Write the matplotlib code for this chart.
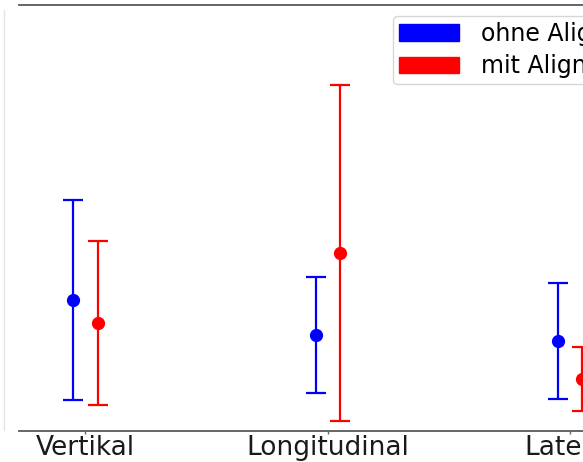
import matplotlib
matplotlib.use("Agg")
import matplotlib.pyplot as plt
from matplotlib.patches import Patch
from matplotlib.lines import Line2D
import numpy as np

categories = ["Vertikal", "Longitudinal", "Lateral"]
ohne_mean = [1.30, 0.95, 0.89]
ohne_err = [1.00, 0.58, 0.58]
mit_mean = [1.07, 1.77, 0.51]
mit_err = [0.82, 1.68, 0.32]
labels = ["ohne Alignment", "mit Alignment"]

W, H = 583, 462
fig = plt.figure(figsize=(W / 100, H / 100), dpi=100)
ax = fig.add_axes([19 / W, 1 - 430.5 / H, 617.5 / W, 425.5 / H])

x = np.arange(len(categories))
off = 0.05
kw = dict(fmt="o", markersize=8.5, elinewidth=1.6, capsize=7, capthick=1.6)
ax.errorbar(x - off, ohne_mean, yerr=ohne_err, color="blue", **kw)
ax.errorbar(x + off, mit_mean, yerr=mit_err, color="red", **kw)

ax.set_xlim(-0.2745, 2.2745)
ax.set_ylim(0, 4.25)
ax.set_xticks(x)
ax.set_xticklabels(categories, fontsize=19, color="#1a1a1a")
ax.set_yticks([])
ax.tick_params(axis="x", length=2.5, width=1, color="0.4", pad=1)
for s in ["left", "right"]:
    ax.spines[s].set_visible(False)
for s in ["top", "bottom"]:
    ax.spines[s].set_color("0.35")
    ax.spines[s].set_linewidth(1.3)

handles = [Patch(color="blue"), Patch(color="red")]
ax.legend(handles, labels, loc="upper left",
          bbox_to_anchor=(393 / W, 1 - 15.7 / H), bbox_transform=fig.transFigure,
          borderaxespad=0, fontsize=17, labelspacing=0.35, borderpad=0.26,
          handlelength=2.55, handleheight=0.68, handletextpad=0.93)

fig.add_artist(Line2D([3.5 / W, 3.5 / W], [1 - 10 / H, 1 - 430 / H],
                      transform=fig.transFigure, color="#e4e4e4", lw=1))

fig.savefig("out.png", dpi=100)
